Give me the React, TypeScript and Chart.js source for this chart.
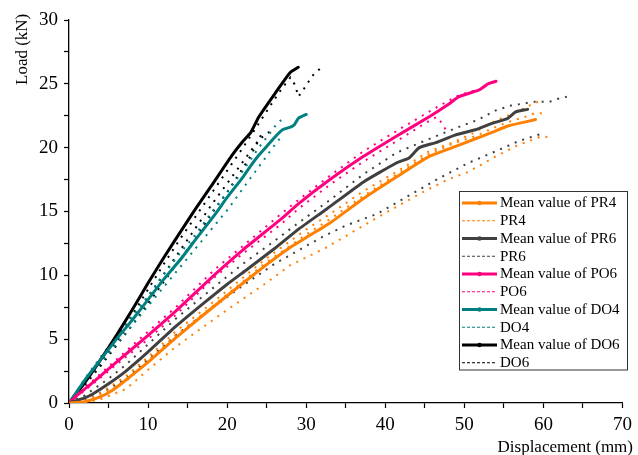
import React, { useEffect, useRef } from 'react';
import { Chart, registerables } from 'chart.js';
Chart.register(...registerables);

type P = [number, number];

const FONT = "'Liberation Serif', 'Times New Roman', serif";

const X_TITLE = 'Displacement (mm)';
const Y_TITLE = 'Load (kN)';

// Mean curves
const PR4_MEAN: P[] = [[0,0],[2,0.1],[4,0.5],[5.5,1.0],[7.2,1.8],[10,3.2],[13.5,5.1],[16.4,6.6],[20,8.4],[24.7,10.7],[28,12.2],[30.1,13.0],[33,14.1],[37.2,16.0],[41.4,17.7],[45.5,19.3],[48.9,20.1],[51.4,20.7],[53.5,21.2],[55.5,21.7],[57.6,22.0],[59,22.2]];
const PR6_MEAN: P[] = [[0,0],[2,0.4],[3,0.7],[5,1.5],[7.2,2.5],[10,4.0],[13.5,6.0],[16,7.3],[18,8.3],[20,9.3],[22.6,10.5],[26,12.1],[29,13.6],[32.6,15.2],[37.2,17.3],[41.4,18.8],[43,19.2],[44.3,20.0],[46.4,20.4],[48.9,21.0],[51.4,21.4],[53.5,21.9],[55.5,22.3],[56.5,22.8],[58,23.0]];
const PO6_MEAN: P[] = [[0,0],[1,0.6],[2,1.1],[3,1.6],[6,3.2],[10,5.3],[13.5,7.2],[18.5,10.1],[22,12.0],[26.8,14.4],[29,15.6],[33,17.5],[37.2,19.3],[41.4,20.9],[45.5,22.4],[48,23.4],[49.3,24.0],[51.8,24.5],[53,25.0],[54,25.2]];
const DO4_MEAN: P[] = [[0,0],[2,1.8],[4,3.4],[6,5.0],[8,6.5],[10,8.1],[12,9.7],[14.3,11.4],[16,12.8],[18.5,14.8],[20,16.1],[22,17.7],[23,18.6],[24,19.4],[25,20.1],[26,20.8],[27,21.4],[28,21.6],[28.5,21.8],[29,22.3],[30,22.6]];
const DO6_MEAN: P[] = [[0,0],[2,1.6],[4,3.4],[6,5.3],[8,7.3],[10,9.4],[12,11.4],[14.3,13.6],[16,15.2],[18,17.0],[20.5,19.3],[22,20.5],[23,21.2],[24,22.4],[26,24.2],[28,25.9],[29,26.3]];

// Individual specimens
const PR4_T1: P[] = [[0,0],[2,0.2],[4,0.8],[7.2,2.1],[10,3.6],[13.5,5.6],[16.4,7.0],[20,8.8],[24.7,11.2],[30,13.6],[33,14.8],[37,16.5],[41.4,18.1],[45.5,19.7],[48.5,20.4],[51,21.1],[53.9,22.1],[55.9,22.6],[57.9,23.2],[58.9,23.5],[59.8,23.7]];
const PR4_T2: P[] = [[0,0],[2,0.1],[4,0.6],[7.2,1.7],[10,3.3],[13.5,5.3],[16.4,6.7],[20,8.5],[24.7,10.9],[30,13.2],[33,14.4],[37.2,16.2],[41.4,17.9],[45.5,19.5],[48.9,20.4],[51.4,20.9],[53.5,21.5],[55.5,22.0],[57.6,22.4],[58.9,22.7],[59.8,22.7]];
const PR4_T3: P[] = [[0,0],[2,0],[4,0.3],[7.2,1.1],[10,2.6],[13.5,4.4],[16.4,5.7],[20,7.3],[24.7,9.3],[28,10.8],[32.6,12.2],[38.9,14.5],[41.8,15.5],[44.7,16.5],[47.9,17.5],[50.5,18.1],[53.9,19.3],[56.8,20.2],[59.8,20.9],[61,20.8]];
const PR6_T1: P[] = [[0,0],[2,0.6],[5,1.9],[7.2,3.0],[10,4.6],[13.5,6.6],[18,8.9],[22,10.9],[26,12.7],[29,14.1],[33,15.9],[37.2,17.9],[41.4,19.6],[46,20.8],[49.6,21.7],[51.8,22.2],[53.9,22.9],[55.9,23.3],[58.9,23.6],[60.8,23.6],[61.7,23.8],[63,24.0]];
const PR6_T2: P[] = [[0,0],[2,0.2],[5,1.1],[7.2,1.9],[10,3.4],[13.5,5.3],[18,7.4],[22,9.2],[26,10.9],[32,13.0],[35,13.9],[38.9,14.8],[42.6,16.1],[46.8,17.6],[50.5,18.8],[53.9,19.7],[56.8,20.5],[59.8,21.1]];
const PO6_T1: P[] = [[0,0],[2,1.2],[6,3.4],[10,5.6],[13.5,7.5],[18.5,10.5],[22,12.3],[26.8,14.8],[29,15.9],[33,17.8],[37.2,19.7],[41.4,21.3],[45.5,22.8],[48.9,24.0],[50.8,24.4],[51.8,24.5]];
const PO6_T2: P[] = [[0,0],[2,1.0],[6,3.0],[10,5.0],[13.5,6.9],[18.5,9.9],[22,11.7],[26.8,14.0],[29,15.2],[33,17.1],[37.2,18.9],[41.4,20.5],[45,21.9],[46.5,22.4],[47.2,21.9],[47.9,21.1]];
const DO4_T1: P[] = [[0,0],[2,1.9],[4,3.6],[6,5.2],[8,6.8],[10,8.4],[12,10.1],[14,11.7],[16,13.2],[18,14.9],[20,16.5],[22,18.2],[24,20.0],[25.5,21.2],[26.2,21.8],[26.9,22.2]];
const DO4_T2: P[] = [[0,0],[2,1.6],[4,3.1],[6,4.6],[8,6.1],[10,7.6],[12,9.1],[14,10.6],[16,12.1],[18,13.6],[20,15.1],[22,16.8],[24,18.5],[26,20.2],[26.9,20.9]];
const DO6_T1: P[] = [[0,0],[2,1.6],[4,3.3],[6,5.0],[8,6.9],[10,8.9],[12,10.9],[14,12.8],[16,14.6],[18,16.4],[20,18.2],[22,20.0],[24,21.9],[26,23.8],[27,24.7],[28,25.5],[28.6,24.9],[29,24.0],[29.5,24.4],[30,24.9],[31,25.8],[32,26.3]];
const DO6_T2: P[] = [[0,0],[2,1.5],[4,3.1],[6,4.8],[8,6.5],[10,8.3],[12,10.1],[14,11.9],[16,13.7],[18,15.5],[20,17.2],[22,18.9],[24,20.6],[25,21.1],[26,21.5]];
const DO6_T3: P[] = [[0,0],[2,1.4],[4,2.9],[6,4.5],[8,6.1],[10,7.8],[12,9.5],[14,11.2],[16,12.9],[18,14.8],[20,16.5],[22,18.4],[23,19.4],[24,20.6],[24.5,21.3]];

const GROUP_NAMES = ['PR4', 'PR6', 'PO6', 'DO4', 'DO6'];
const GROUP_COLORS = ['#ff8000', '#404040', '#ff0080', '#008080', '#000000'];
const GROUP_MEANS = [PR4_MEAN, PR6_MEAN, PO6_MEAN, DO4_MEAN, DO6_MEAN];
const GROUP_TESTS = [[PR4_T1, PR4_T2, PR4_T3], [PR6_T1, PR6_T2], [PO6_T1, PO6_T2], [DO4_T1, DO4_T2], [DO6_T1, DO6_T2, DO6_T3]];

const toXY = (arr: P[]) => arr.map(([x, y]) => ({ x, y }));

const legendPlugin = {
  id: 'boxLegend',
  afterDraw(chart: any) {
    const ctx = chart.ctx as CanvasRenderingContext2D;
    const items = chart.data.datasets.filter((d: any) => d.legendRow);
    const left = 459.5, top = 191.5, w = 168, h = 178.5;
    ctx.save();
    ctx.strokeStyle = '#333';
    ctx.lineWidth = 1;
    ctx.setLineDash([]);
    ctx.strokeRect(left, top, w, h);
    items.forEach((d: any, i: number) => {
      const y = 203 + i * 17.75;
      ctx.strokeStyle = d.borderColor;
      if (d.isMean) {
        ctx.lineWidth = 3;
        ctx.setLineDash([]);
      } else {
        ctx.lineWidth = 1;
        ctx.setLineDash([3, 2]);
      }
      ctx.beginPath();
      ctx.moveTo(462, y);
      ctx.lineTo(497, y);
      ctx.stroke();
      ctx.setLineDash([]);
      if (d.isMean) {
        ctx.fillStyle = d.borderColor;
        ctx.beginPath();
        ctx.arc(479.5, y, 2.2, 0, Math.PI * 2);
        ctx.fill();
      }
      ctx.fillStyle = '#000';
      ctx.font = `15px ${FONT}`;
      ctx.textAlign = 'left';
      ctx.textBaseline = 'middle';
      ctx.fillText(d.label, 500, y + 0.5);
    });
    // axis titles
    ctx.fillStyle = '#000';
    ctx.font = `17px ${FONT}`;
    ctx.textAlign = 'right';
    ctx.textBaseline = 'alphabetic';
    ctx.fillText(X_TITLE, 633, 452);
    ctx.translate(26.5, 85);
    ctx.rotate(-Math.PI / 2);
    ctx.textAlign = 'left';
    ctx.fillText(Y_TITLE, 0, 0);
    ctx.restore();
  },
};

export default function App() {
  const ref = useRef<HTMLCanvasElement>(null);
  useEffect(() => {
    if (!ref.current) return;
    const datasets: any[] = [];
    GROUP_NAMES.forEach((name, gi) => {
      const color = GROUP_COLORS[gi];
      datasets.push({
        label: `Mean value of ${name}`,
        data: toXY(GROUP_MEANS[gi]),
        borderColor: color,
        backgroundColor: color,
        borderWidth: 3,
        pointRadius: 0,
        borderJoinStyle: 'round',
        borderCapStyle: 'round',
        tension: 0.15,
        order: 0,
        legendRow: true,
        isMean: true,
      });
      GROUP_TESTS[gi].forEach((t, ti) => {
        datasets.push({
          label: name,
          data: toXY(t),
          borderColor: color,
          backgroundColor: color,
          borderWidth: 2,
          borderDash: [2, 6],
          pointRadius: 0,
          order: 1,
          legendRow: ti === 0,
          isMean: false,
        });
      });
    });
    const chart = new Chart(ref.current, {
      type: 'line',
      data: { datasets },
      options: {
        animation: false,
        responsive: false,
        layout: { padding: { left: 0, right: 10, top: 20, bottom: 0 } },
        plugins: { legend: { display: false }, tooltip: { enabled: false } },
        scales: {
          x: {
            type: 'linear',
            min: 0,
            max: 70,
            afterFit: (s: any) => { s.height = 52; },
            ticks: {
              stepSize: 5,
              autoSkip: false,
              maxRotation: 0,
              color: '#000',
              padding: 6,
              font: { family: FONT, size: 19 },
              callback: (v: any) => (Number(v) % 10 === 0 ? String(v) : ''),
            },
            grid: { display: true, drawOnChartArea: false, drawTicks: true, tickLength: 5, tickColor: '#000', tickWidth: 1.2 },
            border: { display: true, color: '#000', width: 1.3 },
          },
          y: {
            type: 'linear',
            min: 0,
            max: 30,
            afterFit: (s: any) => { s.width = 69; },
            ticks: {
              stepSize: 2.5,
              autoSkip: false,
              color: '#000',
              padding: 6,
              font: { family: FONT, size: 19 },
              callback: (v: any) => (Number(v) % 5 === 0 ? String(v) : ''),
            },
            grid: { display: true, drawOnChartArea: false, drawTicks: true, tickLength: 5, tickColor: '#000', tickWidth: 1.2 },
            border: { display: true, color: '#000', width: 1.3 },
          },
        },
      } as any,
      plugins: [legendPlugin],
    });
    return () => chart.destroy();
  }, []);
  return (
    <div style={{ position: 'absolute', left: 0, top: 0, width: 638, height: 455, background: '#fff' }}>
      <canvas ref={ref} width={638} height={455} style={{ display: 'block', width: 638, height: 455 }} />
    </div>
  );
}
